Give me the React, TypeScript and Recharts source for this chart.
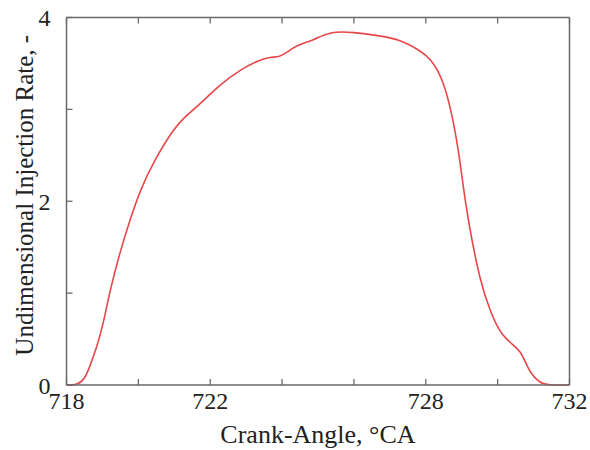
import React from 'react';
import { LineChart, Line, XAxis, YAxis } from 'recharts';

const crankAngle = [718.0, 718.3, 718.5, 718.65, 718.85, 719.02, 719.21, 719.49, 719.77, 720.05, 720.42, 721.0, 721.3, 721.72, 722.27, 722.83, 723.38, 723.66, 723.94, 724.13, 724.41, 724.87, 725.33, 725.98, 726.73, 727.28, 727.84, 728.12, 728.49, 728.77, 728.95, 729.09, 729.28, 729.51, 729.79, 730.11, 730.57, 730.71, 730.9, 731.18, 731.4, 732.0];
const injectionRate = [0, 0, 0.06, 0.2, 0.42, 0.66, 1.03, 1.45, 1.8, 2.12, 2.43, 2.8, 2.92, 3.06, 3.27, 3.43, 3.54, 3.57, 3.57, 3.62, 3.7, 3.75, 3.85, 3.84, 3.8, 3.76, 3.64, 3.56, 3.33, 2.88, 2.45, 2.01, 1.58, 1.14, 0.8, 0.53, 0.4, 0.31, 0.13, 0.02, 0, 0];

const xTicks = [718, 720, 722, 724, 726, 728, 730, 732];
const xLabeled = [718, 722, 728, 732];
const yTicks = [0, 1, 2, 3, 4];
const yLabeled = [0, 2, 4];

const xTitle = 'Crank-Angle, \u00B0CA';
const yTitle = 'Undimensional Injection Rate, -';

const data = crankAngle.map((x, i) => ({ x, y: injectionRate[i] }));

const FONT = '"Liberation Serif", "Times New Roman", serif';
const AXIS = '#6a6a6a';

export default function App() {
  return (
    <div style={{ position: 'absolute', left: 0, top: 0, width: 590, height: 450, overflow: 'hidden' }}>
      <LineChart
        width={590}
        height={450}
        data={data}
        margin={{ top: 17.5, right: 20.5, left: 0, bottom: 0 }}
      >
        <XAxis
          xAxisId="b"
          dataKey="x"
          type="number"
          domain={[718, 732]}
          ticks={xTicks}
          height={65}
          tickSize={-6}
          tickMargin={13}
          tickLine={{ stroke: AXIS, strokeWidth: 1.3 }}
          axisLine={{ stroke: AXIS, strokeWidth: 1.5 }}
          tick={{ fill: '#222', fontSize: 24, fontFamily: FONT }}
          tickFormatter={(v: number) => (xLabeled.includes(v) ? String(v) : '')}
          interval={0}
          label={{
            content: (props: any) => {
              const vb = props.viewBox || {};
              return (
                <text
                  x={vb.x + vb.width / 2}
                  y={vb.y + vb.height - 7}
                  textAnchor="middle"
                  fontFamily={FONT}
                  fontSize={26}
                  fill="#222"
                >
                  {xTitle}
                </text>
              );
            },
          }}
        />
        <XAxis
          xAxisId="t"
          dataKey="x"
          type="number"
          orientation="top"
          mirror
          domain={[718, 732]}
          ticks={xTicks}
          tickSize={6}
          tickLine={{ stroke: AXIS, strokeWidth: 1.3 }}
          axisLine={{ stroke: AXIS, strokeWidth: 1.5 }}
          tickFormatter={() => ''}
          interval={0}
        />
        <YAxis
          yAxisId="l"
          type="number"
          domain={[0, 4]}
          ticks={yTicks}
          width={66.5}
          tickSize={-6}
          tickMargin={22}
          tickLine={{ stroke: AXIS, strokeWidth: 1.3 }}
          axisLine={{ stroke: AXIS, strokeWidth: 1.5 }}
          tick={{ fill: '#222', fontSize: 24, fontFamily: FONT }}
          tickFormatter={(v: number) => (yLabeled.includes(v) ? String(v) : '')}
          interval={0}
          label={{
            content: (props: any) => {
              const vb = props.viewBox || {};
              const cx = 24;
              const cy = vb.y + vb.height / 2 - 6;
              return (
                <text
                  x={cx}
                  y={cy}
                  transform={`rotate(-90, ${cx}, ${cy})`}
                  textAnchor="middle"
                  dominantBaseline="central"
                  fontFamily={FONT}
                  fontSize={25}
                  fill="#222"
                >
                  {yTitle}
                </text>
              );
            },
          }}
        />
        <YAxis
          yAxisId="r"
          type="number"
          orientation="right"
          mirror
          domain={[0, 4]}
          ticks={yTicks}
          tickSize={6}
          tickLine={{ stroke: AXIS, strokeWidth: 1.3 }}
          axisLine={{ stroke: AXIS, strokeWidth: 1.5 }}
          tickFormatter={() => ''}
          interval={0}
        />
        <Line
          xAxisId="b"
          yAxisId="l"
          type="basis"
          dataKey="y"
          stroke="#e8474a"
          strokeWidth={1.6}
          dot={false}
          isAnimationActive={false}
        />
      </LineChart>
    </div>
  );
}
